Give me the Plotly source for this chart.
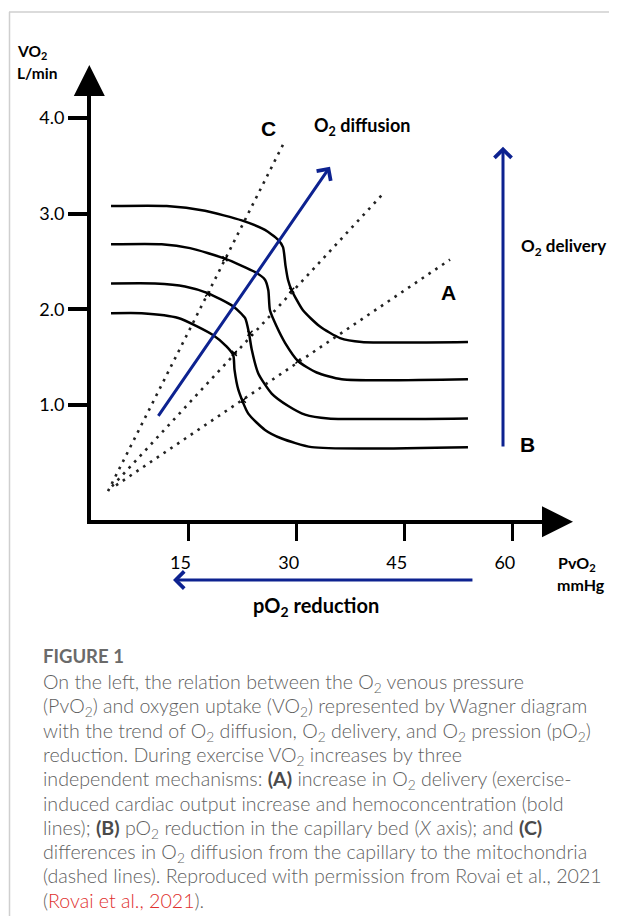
import plotly.graph_objects as go

# ---------------- data (PvO2 in mmHg, VO2 in L/min) ----------------
x_ticks = [15, 30, 45, 60]
x_tick_labels = ["15", "30", "45", "60"]
y_ticks = [1.0, 2.0, 3.0, 4.0]
y_tick_labels = ["1.0", "2.0", "3.0", "4.0"]

curve1_x = [4.25, 11.97, 17.29, 22.38, 25.61, 27.41, 28.11, 28.45, 28.80, 29.31, 30.88, 33.24, 36.02, 39.03, 53.77]
curve1_y = [3.08, 3.08, 3.03, 2.93, 2.83, 2.73, 2.65, 2.46, 2.31, 2.20, 1.99, 1.82, 1.70, 1.66, 1.66]

curve2_x = [4.25, 11.28, 15.21, 20.06, 24.22, 25.61, 26.07, 26.30, 27.23, 28.39, 30.19, 32.78, 36.25, 53.77]
curve2_y = [2.68, 2.68, 2.64, 2.53, 2.39, 2.31, 2.20, 1.99, 1.82, 1.65, 1.46, 1.34, 1.27, 1.27]

curve3_x = [4.25, 10.35, 14.51, 17.66, 21.21, 22.84, 23.39, 23.77, 24.68, 26.54, 28.84, 31.16, 34.39, 53.77]
curve3_y = [2.27, 2.27, 2.24, 2.17, 2.03, 1.91, 1.75, 1.58, 1.33, 1.12, 0.99, 0.90, 0.86, 0.86]

curve4_x = [4.25, 8.50, 13.58, 18.44, 20.30, 21.21, 21.38, 21.91, 23.29, 25.61, 27.93, 32.09, 53.77]
curve4_y = [1.96, 1.96, 1.91, 1.73, 1.61, 1.52, 1.37, 1.16, 0.91, 0.74, 0.65, 0.56, 0.56]

curves_x = [curve1_x, curve2_x, curve3_x, curve4_x]
curves_y = [curve1_y, curve2_y, curve3_y, curve4_y]

# diffusion lines (dotted) C, middle, A
diffC_x = [3.83, 28.43]
diffC_y = [0.10, 3.77]
diffM_x = [4.38, 42.26]
diffM_y = [0.15, 3.23]
diffA_x = [4.94, 51.28]
diffA_y = [0.16, 2.52]

# small marks where dotted lines cross the curves
cross_x = [29.31, 20.06, 30.19, 17.66, 23.53, 21.35, 22.60]
cross_y = [2.20, 2.53, 1.46, 2.16, 1.75, 1.54, 1.05]

# arrows
diffusion_tail = (10.67, 0.87)
diffusion_head = (34.63, 3.49)
delivery_x = 58.63
delivery_tail_y = 0.55
delivery_head_y = 3.70
reduction_tail_x = 54.6
reduction_head_x = 12.85

# ---------------- layout helpers ----------------
OFF = 8  # page body margin of the browser
W, H = 617 - 2 * OFF, 924 - 2 * OFF
L, R, T, B = 91 - OFF, 543 - OFF, 95 - OFF, 520 - OFF  # plot area in figure pixels


def pxx(x):
    return (x - OFF - L) / (R - L)


def pxy(y):
    return (B - (y - OFF)) / (B - T)


BLUE = "#0d2290"
LABEL_FONT = "Lato"

fig = go.Figure()

for cx, cy in zip(curves_x, curves_y):
    fig.add_trace(go.Scatter(x=cx, y=cy, mode="lines",
                             line=dict(color="black", width=2.5, shape="spline", smoothing=0.6),
                             hoverinfo="skip"))

for dx, dy in [(diffC_x, diffC_y), (diffM_x, diffM_y), (diffA_x, diffA_y)]:
    fig.add_trace(go.Scatter(x=dx, y=dy, mode="lines",
                             line=dict(color="#222", width=2.6, dash="2.6px,5.6px"),
                             hoverinfo="skip"))

fig.add_trace(go.Scatter(x=cross_x, y=cross_y, mode="markers",
                         marker=dict(symbol="x-thin", size=5, line=dict(color="black", width=1.5)),
                         hoverinfo="skip"))

ann = []

# axis arrowheads
ann.append(dict(xref="paper", yref="paper", x=pxx(89.3), y=pxy(65), ax=0, ay=30,
                axref="pixel", ayref="pixel", text="", showarrow=True,
                arrowhead=2, arrowsize=1.55, arrowwidth=4, arrowcolor="black", standoff=0))
ann.append(dict(xref="paper", yref="paper", x=pxx(573), y=pxy(521.7), ax=-30, ay=0,
                axref="pixel", ayref="pixel", text="", showarrow=True,
                arrowhead=2, arrowsize=1.55, arrowwidth=4, arrowcolor="black", standoff=0))

# blue arrows
ann.append(dict(xref="x", yref="y", x=diffusion_head[0], y=diffusion_head[1],
                axref="x", ayref="y", ax=diffusion_tail[0], ay=diffusion_tail[1],
                text="", showarrow=True, arrowhead=4, arrowsize=1.1, arrowwidth=3,
                arrowcolor=BLUE, standoff=0))
ann.append(dict(xref="x", yref="y", x=delivery_x, y=delivery_head_y,
                axref="x", ayref="y", ax=delivery_x, ay=delivery_tail_y,
                text="", showarrow=True, arrowhead=4, arrowsize=1.1, arrowwidth=3,
                arrowcolor=BLUE, standoff=0))
ann.append(dict(xref="x", yref="paper", x=reduction_head_x, y=pxy(580),
                axref="x", ayref="pixel", ax=reduction_tail_x, ay=0,
                text="", showarrow=True, arrowhead=4, arrowsize=1.1, arrowwidth=3,
                arrowcolor=BLUE, standoff=0))


def label(text, x, y, size, family=LABEL_FONT, xanchor="center", yanchor="middle",
          color="black", weight=None):
    font = dict(family=family, size=size, color=color)
    if weight is not None:
        font["weight"] = weight
    ann.append(dict(xref="paper", yref="paper", x=pxx(x), y=pxy(y), text=text,
                    showarrow=False, xanchor=xanchor, yanchor=yanchor, font=font))


label("<b>C</b>", 268, 128, 21, family="Liberation Sans")
label("<b>A</b>", 448, 292, 21, family="Liberation Sans")
label("<b>B</b>", 527, 444, 21, family="Liberation Sans")
label("<b>O<sub>2</sub> diffusion</b>", 312, 126, 18, xanchor="left")
label("<b>O<sub>2</sub> delivery</b>", 519, 247, 17, xanchor="left")
label("<b>pO<sub>2</sub> reduction</b>", 251, 606, 20, xanchor="left")
label("<b>PvO<sub>2</sub></b>", 556, 563, 16, xanchor="left")
label("<b>mmHg</b>", 555, 584, 16, xanchor="left")
label("<b>VO<sub>2</sub></b>", 15, 52, 15.5, xanchor="left")
label("<b>L/min</b>", 15, 73, 15.5, xanchor="left")

# caption
CAP = "#5f5f5f"
DARK = "#4a4a4a"
caption_title = "<b>FIGURE 1</b>"
caption_lines = [
    "On the left, the relation between the O<sub>2</sub> venous pressure",
    "(PvO<sub>2</sub>) and oxygen uptake (VO<sub>2</sub>) represented by Wagner diagram",
    "with the trend of O<sub>2</sub> diffusion, O<sub>2</sub> delivery, and O<sub>2</sub> pression (pO<sub>2</sub>)",
    "reduction. During exercise VO<sub>2</sub> increases by three",
    "independent mechanisms: <b><span style='color:%s'>(A)</span></b> increase in O<sub>2</sub> delivery (exercise-" % DARK,
    "induced cardiac output increase and hemoconcentration (bold",
    "lines); <b><span style='color:%s'>(B)</span></b> pO<sub>2</sub> reduction in the capillary bed (<i>X</i> axis); and <b><span style='color:%s'>(C)</span></b>" % (DARK, DARK),
    "differences in O<sub>2</sub> diffusion from the capillary to the mitochondria",
    "(dashed lines). Reproduced with permission from Rovai et al., 2021",
    "(<span style='color:#e0302d'>Rovai et al., 2021</span>).",
]
label(caption_title, 41, 643, 18.5, xanchor="left", yanchor="top", color="#6a6a6a")
for i, line in enumerate(caption_lines):
    label(line, 41, 668 + 24.3 * i, 19.6, xanchor="left", yanchor="top", color=CAP, weight=300)

shapes = [
    dict(type="line", xref="paper", yref="paper", x0=pxx(9), x1=pxx(617), y0=pxy(12), y1=pxy(12),
         line=dict(color="#cfcfcf", width=1.5)),
    dict(type="line", xref="paper", yref="paper", x0=pxx(9.5), x1=pxx(9.5), y0=pxy(12), y1=pxy(924),
         line=dict(color="#cfcfcf", width=1.5)),
]

fig.update_layout(
    width=W, height=H,
    margin=dict(l=L, r=W - R, t=T, b=H - B, pad=0),
    paper_bgcolor="white", plot_bgcolor="white",
    showlegend=False,
    annotations=ann, shapes=shapes,
    xaxis=dict(range=[1.471, 64.18], showgrid=False, zeroline=False,
               showline=True, linewidth=4, linecolor="black",
               ticks="outside", ticklen=17, tickwidth=3, tickcolor="black",
               tickvals=x_ticks, ticktext=x_tick_labels, ticklabelshift=-8, ticklabelstandoff=6,
               tickfont=dict(family=LABEL_FONT, size=18, color="black"), fixedrange=True),
    yaxis=dict(range=[-0.2017, 4.2406], showgrid=False, zeroline=False,
               showline=True, linewidth=4, linecolor="black",
               ticks="outside", ticklen=19, tickwidth=4, tickcolor="black",
               tickvals=y_ticks, ticktext=y_tick_labels, ticklabelstandoff=0,
               tickfont=dict(family=LABEL_FONT, size=18, color="black"), fixedrange=True),
)

fig.write_html("out.html")
